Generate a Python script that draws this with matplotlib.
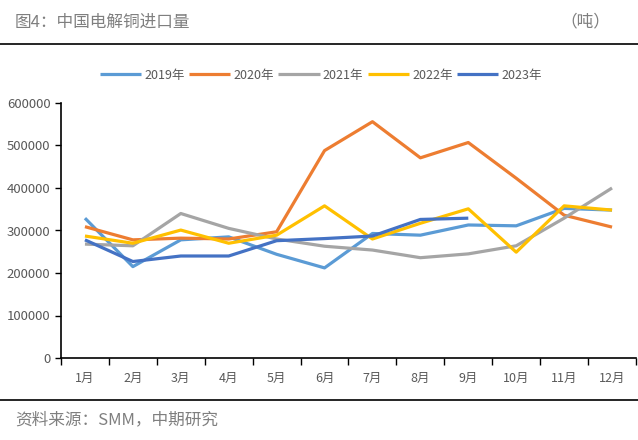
import matplotlib
matplotlib.use("Agg")
import matplotlib.pyplot as plt
from matplotlib.lines import Line2D
import numpy as np

plt.rcParams['font.family'] = ['Noto Sans CJK SC', 'DejaVu Sans']

months = ['1月', '2月', '3月', '4月', '5月', '6月', '7月', '8月', '9月', '10月', '11月', '12月']
y2019 = [329000, 215000, 278000, 285000, 244000, 212000, 293000, 289000, 313000, 311000, 352000, 348000]
y2020 = [309000, 278000, 282000, 280000, 297000, 488000, 556000, 471000, 507000, 423000, 336000, 308000]
y2021 = [268000, 264000, 340000, 305000, 280000, 263000, 254000, 236000, 245000, 264000, 329000, 400000]
y2022 = [287000, 270000, 301000, 270000, 289000, 358000, 280000, 317000, 351000, 249000, 358000, 348000]
y2023 = [278000, 227000, 240000, 240000, 276000, 281000, 287000, 326000, 329000]

series = [('2019年', y2019, '#5B9BD5'),
          ('2020年', y2020, '#ED7D31'),
          ('2021年', y2021, '#A5A5A5'),
          ('2022年', y2022, '#FFC000'),
          ('2023年', y2023, '#4472C4')]

fig = plt.figure(figsize=(6.38, 4.4), dpi=100)
ax = fig.add_axes([61/638, 82/440, 575/638, 255/440])

for name, vals, col in series:
    ax.plot(range(len(vals)), vals, color=col, lw=2.3, label=name, solid_capstyle='butt')

ax.set_xlim(-0.5, 11.5)
ax.set_ylim(0, 600000)
ax.set_yticks(np.arange(0, 600001, 100000))
ax.set_xticks(range(12))
ax.set_xticklabels(months)
ax.set_xticks(np.arange(-0.5, 12, 1), minor=True)
ax.tick_params(axis='x', which='major', length=0, pad=10, labelsize=9, colors='#595959')
ax.tick_params(axis='x', which='minor', length=5, direction='out', width=1, color='black')
ax.tick_params(axis='y', length=4, width=1, labelsize=9.5, colors='#595959')
ax.tick_params(axis='y', color='black')
for s in ['top', 'right']:
    ax.spines[s].set_visible(False)
for s in ['left', 'bottom']:
    ax.spines[s].set_linewidth(1.2)

ax.legend(loc='lower center', bbox_to_anchor=(0.452, 1.04), ncol=5, frameon=False,
          fontsize=9, handlelength=3.3, handletextpad=0.25, columnspacing=0.35,
          labelcolor='#595959')

fig.text(15/638, 1 - 22/440, '图4：中国电解铜进口量', fontsize=12, color='#7f7f7f', va='center')
fig.text(610/638, 1 - 22/440, '（吨）', fontsize=12, color='#7f7f7f', va='center', ha='right')
fig.add_artist(Line2D([0, 1], [1 - 44/440, 1 - 44/440], color='black', lw=1.2))
fig.add_artist(Line2D([0, 1], [1 - 400/440, 1 - 400/440], color='black', lw=1.2))
fig.text(15/638, 1 - 420/440, '资料来源：SMM，中期研究', fontsize=12, color='#7f7f7f', va='center')

fig.savefig('out.png', dpi=100)
